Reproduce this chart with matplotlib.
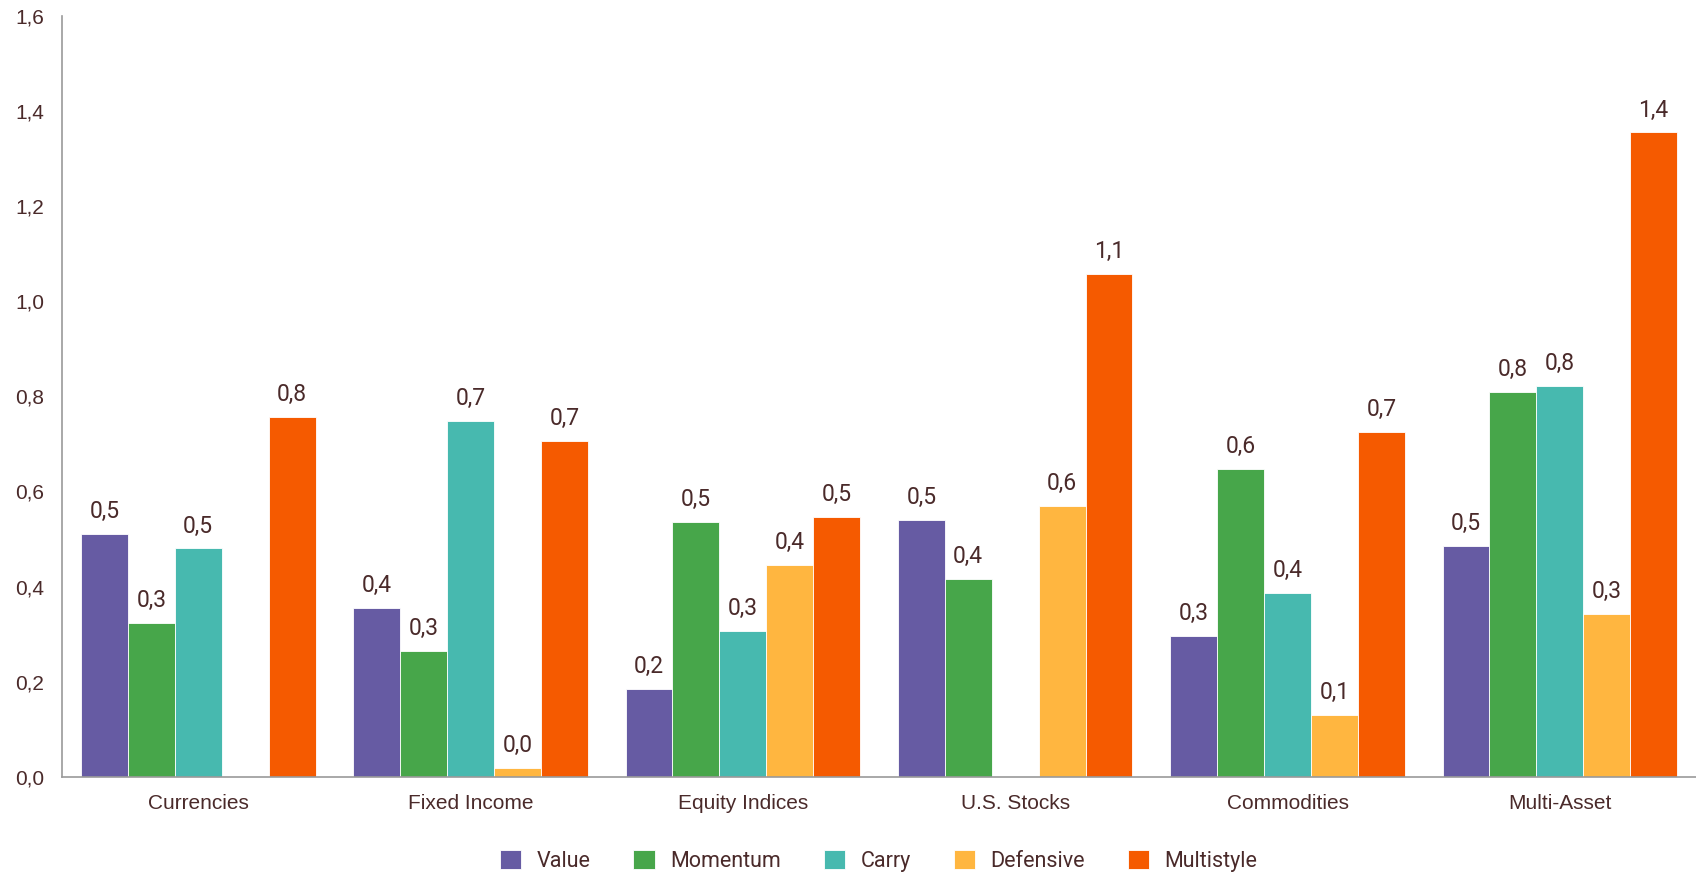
import numpy as np
import matplotlib.pyplot as plt

# asset classes and style values (nan = no bar)
categories = ["Currencies", "Fixed Income", "Equity Indices", "U.S. Stocks", "Commodities", "Multi-Asset"]
value = [0.51, 0.355, 0.185, 0.54, 0.296, 0.485]
momentum = [0.323, 0.265, 0.535, 0.415, 0.647, 0.81]
carry = [0.48, 0.749, 0.307, np.nan, 0.386, 0.822]
defensive = [np.nan, 0.018, 0.446, 0.569, 0.130, 0.342]
multistyle = [0.756, 0.707, 0.546, 1.057, 0.725, 1.355]

series = {"Value": value, "Momentum": momentum, "Carry": carry,
          "Defensive": defensive, "Multistyle": multistyle}
colors = {"Value": "#665ba3", "Momentum": "#47a64a", "Carry": "#47b9af",
          "Defensive": "#ffb640", "Multistyle": "#f55a00"}

text_col = "#4a2a2a"
label_font = "Roboto"

fig = plt.figure(figsize=(16.96, 8.73), dpi=100)
ax = fig.add_axes([0.0366, 0.1103, 0.9634, 0.8714])

x = np.arange(len(categories))
w = 0.1723
for i, (name, vals) in enumerate(series.items()):
    pos = x + (i - 2) * w
    ax.bar(pos, vals, width=w, color=colors[name], edgecolor="white",
           linewidth=0.6, label=name)
    for xp, v in zip(pos, vals):
        if np.isnan(v):
            continue
        ax.annotate(f"{v:.1f}".replace(".", ","), (xp, v), xytext=(0, 11.5),
                    textcoords="offset points", ha="center", va="baseline",
                    fontsize=16.5, color=text_col, family=label_font)

ax.set_xlim(-0.5, 5.5)
ax.set_ylim(0, 1.6)
ax.set_yticks(np.arange(0, 1.61, 0.2))
ax.set_yticklabels([f"{t:.1f}".replace(".", ",") for t in np.arange(0, 1.61, 0.2)])
ax.set_xticks(x)
ax.set_xticklabels(categories)
ax.tick_params(axis="both", length=0, colors=text_col, labelsize=15)
ax.tick_params(axis="y", pad=13)
ax.tick_params(axis="x", pad=12.5)
for lab in ax.get_xticklabels() + ax.get_yticklabels():
    lab.set_family("Liberation Sans")

for s in ["top", "right"]:
    ax.spines[s].set_visible(False)
for s in ["left", "bottom"]:
    ax.spines[s].set_color("#9a9a9a")
    ax.spines[s].set_linewidth(1.2)

leg = fig.legend(loc="center", bbox_to_anchor=(0.518, 0.0137), ncol=5,
                 frameon=False, handlelength=1.0, handleheight=1.0,
                 handletextpad=0.7, columnspacing=2.0,
                 prop={"family": label_font, "size": 15.5})
for t in leg.get_texts():
    t.set_color(text_col)

fig.savefig("out.png", dpi=100)
